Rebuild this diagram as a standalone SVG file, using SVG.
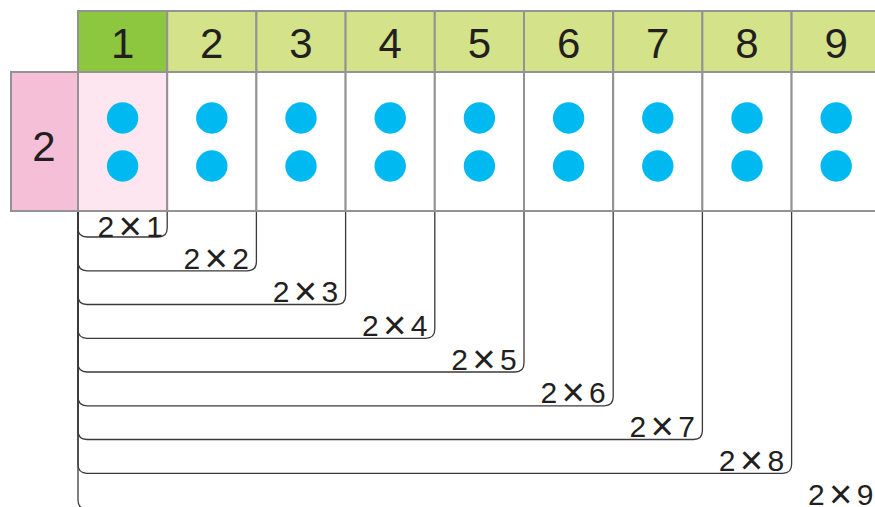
<svg xmlns="http://www.w3.org/2000/svg" width="875" height="507" viewBox="0 0 875 507">
<style>
.grid{stroke:#939393;stroke-width:2}
.hd{fill:#d4e28a}
.num{font-family:"Liberation Sans",Arial,sans-serif;font-size:42px;fill:#231f20;text-anchor:middle}
.dot{fill:#00b9f1}
.lbl{font-family:"Liberation Sans",Arial,sans-serif;font-size:30px;fill:#231f20;text-anchor:end;word-spacing:-4px}
.x{font-size:40px}
.br{fill:none;stroke:#3a3a3a;stroke-width:1.3}
</style>
<rect width="875" height="507" fill="#ffffff"/>
<g id="row-label">
<rect x="11" y="72" width="67" height="139" fill="#f6bfd8" class="grid"/>
<text x="44" y="161" class="num">2</text>
</g>
<g id="col1">
<rect x="78" y="11" width="89.2" height="61" fill="#8dc63f" class="grid"/>
<text x="122.6" y="58" class="num">1</text>
<rect x="78" y="72" width="89.2" height="139" fill="#fde6ef" class="grid"/>
<circle cx="122.6" cy="118" r="15.7" class="dot"/><circle cx="122.6" cy="166" r="15.7" class="dot"/>
</g>
<g id="col2">
<rect x="167.2" y="11" width="89.2" height="61" class="hd grid"/>
<text x="211.8" y="58" class="num">2</text>
<rect x="167.2" y="72" width="89.2" height="139" fill="#ffffff" class="grid"/>
<circle cx="211.8" cy="118" r="15.7" class="dot"/><circle cx="211.8" cy="166" r="15.7" class="dot"/>
</g>
<g id="col3">
<rect x="256.4" y="11" width="89.2" height="61" class="hd grid"/>
<text x="301" y="58" class="num">3</text>
<rect x="256.4" y="72" width="89.2" height="139" fill="#ffffff" class="grid"/>
<circle cx="301" cy="118" r="15.7" class="dot"/><circle cx="301" cy="166" r="15.7" class="dot"/>
</g>
<g id="col4">
<rect x="345.6" y="11" width="89.2" height="61" class="hd grid"/>
<text x="390.2" y="58" class="num">4</text>
<rect x="345.6" y="72" width="89.2" height="139" fill="#ffffff" class="grid"/>
<circle cx="390.2" cy="118" r="15.7" class="dot"/><circle cx="390.2" cy="166" r="15.7" class="dot"/>
</g>
<g id="col5">
<rect x="434.8" y="11" width="89.2" height="61" class="hd grid"/>
<text x="479.4" y="58" class="num">5</text>
<rect x="434.8" y="72" width="89.2" height="139" fill="#ffffff" class="grid"/>
<circle cx="479.4" cy="118" r="15.7" class="dot"/><circle cx="479.4" cy="166" r="15.7" class="dot"/>
</g>
<g id="col6">
<rect x="524" y="11" width="89.2" height="61" class="hd grid"/>
<text x="568.6" y="58" class="num">6</text>
<rect x="524" y="72" width="89.2" height="139" fill="#ffffff" class="grid"/>
<circle cx="568.6" cy="118" r="15.7" class="dot"/><circle cx="568.6" cy="166" r="15.7" class="dot"/>
</g>
<g id="col7">
<rect x="613.2" y="11" width="89.2" height="61" class="hd grid"/>
<text x="657.8" y="58" class="num">7</text>
<rect x="613.2" y="72" width="89.2" height="139" fill="#ffffff" class="grid"/>
<circle cx="657.8" cy="118" r="15.7" class="dot"/><circle cx="657.8" cy="166" r="15.7" class="dot"/>
</g>
<g id="col8">
<rect x="702.4" y="11" width="89.2" height="61" class="hd grid"/>
<text x="747" y="58" class="num">8</text>
<rect x="702.4" y="72" width="89.2" height="139" fill="#ffffff" class="grid"/>
<circle cx="747" cy="118" r="15.7" class="dot"/><circle cx="747" cy="166" r="15.7" class="dot"/>
</g>
<g id="col9">
<rect x="791.6" y="11" width="89.2" height="61" class="hd grid"/>
<text x="836.2" y="58" class="num">9</text>
<rect x="791.6" y="72" width="89.2" height="139" fill="#ffffff" class="grid"/>
<circle cx="836.2" cy="118" r="15.7" class="dot"/><circle cx="836.2" cy="166" r="15.7" class="dot"/>
</g>
<g id="connectors">
<path class="br" d="M78,212 V228 Q78,237 87,237 H158.2 Q167.2,237 167.2,228 V212"/>
<path class="br" d="M78,212 V261.8 Q78,270.8 87,270.8 H247.4 Q256.4,270.8 256.4,261.8 V212"/>
<path class="br" d="M78,212 V295.5 Q78,304.5 87,304.5 H336.6 Q345.6,304.5 345.6,295.5 V212"/>
<path class="br" d="M78,212 V329.3 Q78,338.3 87,338.3 H425.8 Q434.8,338.3 434.8,329.3 V212"/>
<path class="br" d="M78,212 V363 Q78,372 87,372 H515 Q524,372 524,363 V212"/>
<path class="br" d="M78,212 V396.8 Q78,405.8 87,405.8 H604.2 Q613.2,405.8 613.2,396.8 V212"/>
<path class="br" d="M78,212 V430.5 Q78,439.5 87,439.5 H693.4 Q702.4,439.5 702.4,430.5 V212"/>
<path class="br" d="M78,212 V464.3 Q78,473.3 87,473.3 H782.6 Q791.6,473.3 791.6,464.3 V212"/>
<path class="br" d="M78,212 V500 Q78,509 87,509 H871.8 Q880.8,509 880.8,500 V212"/>
</g>
<g id="labels">
<text x="163" y="236.5" class="lbl">2 <tspan class="x" dy="3">×</tspan><tspan dy="-3"> 1</tspan></text>
<text x="249" y="268.5" class="lbl">2 <tspan class="x" dy="3">×</tspan><tspan dy="-3"> 2</tspan></text>
<text x="338.2" y="302" class="lbl">2 <tspan class="x" dy="3">×</tspan><tspan dy="-3"> 3</tspan></text>
<text x="427.4" y="335.8" class="lbl">2 <tspan class="x" dy="3">×</tspan><tspan dy="-3"> 4</tspan></text>
<text x="516.6" y="369.5" class="lbl">2 <tspan class="x" dy="3">×</tspan><tspan dy="-3"> 5</tspan></text>
<text x="605.8" y="403.3" class="lbl">2 <tspan class="x" dy="3">×</tspan><tspan dy="-3"> 6</tspan></text>
<text x="695" y="437" class="lbl">2 <tspan class="x" dy="3">×</tspan><tspan dy="-3"> 7</tspan></text>
<text x="784.2" y="470.8" class="lbl">2 <tspan class="x" dy="3">×</tspan><tspan dy="-3"> 8</tspan></text>
<text x="873.4" y="504.5" class="lbl">2 <tspan class="x" dy="3">×</tspan><tspan dy="-3"> 9</tspan></text>
</g>
</svg>
